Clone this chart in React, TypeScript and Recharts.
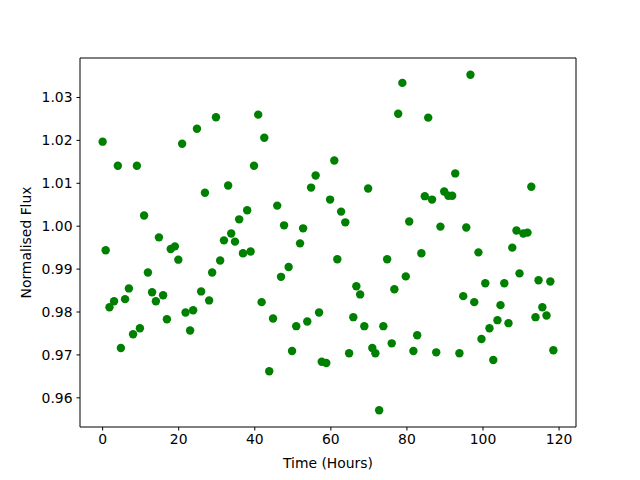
import { ScatterChart, Scatter, XAxis, YAxis, ReferenceLine } from 'recharts';

const hours = [
  0.0, 0.8, 1.8, 3.0, 4.0, 4.8, 5.9, 6.9, 8.0, 9.0,
  9.8, 10.9, 11.9, 13.0, 14.0, 14.8, 15.9, 16.9, 17.9, 19.0,
  19.9, 20.9, 21.8, 23.0, 23.8, 24.8, 25.9, 26.9, 28.0, 28.8,
  29.8, 30.9, 31.9, 33.0, 33.8, 34.8, 35.9, 36.9, 38.0, 38.9,
  39.8, 40.9, 41.8, 42.5, 43.8, 44.8, 45.9, 46.9, 47.7, 48.9,
  49.8, 50.9, 51.9, 52.7, 53.8, 54.8, 56.0, 56.9, 57.6, 58.8,
  59.8, 60.9, 61.7, 62.7, 63.8, 64.8, 65.9, 66.7, 67.7, 68.8,
  69.8, 70.9, 71.7, 72.7, 73.8, 74.8, 76.0, 76.7, 77.7, 78.8,
  79.7, 80.6, 81.7, 82.7, 83.8, 84.7, 85.6, 86.6, 87.7, 88.8,
  89.8, 90.9, 91.9, 92.7, 93.8, 94.8, 95.6, 96.7, 97.7, 98.8,
  99.6, 100.6, 101.7, 102.7, 103.8, 104.6, 105.6, 106.7, 107.7, 108.8,
  109.6, 110.6, 111.7, 112.7, 113.8, 114.6, 115.6, 116.7, 117.7, 118.5,
];

const flux = [
  1.0197, 0.9944, 0.9811, 0.9825, 1.0141, 0.9716, 0.983, 0.9855, 0.9748, 1.0141,
  0.9762, 1.0025, 0.9892, 0.9846, 0.9825, 0.9974, 0.9839, 0.9783, 0.9947, 0.9953,
  0.9922, 1.0192, 0.9799, 0.9757, 0.9804, 1.0227, 0.9848, 1.0078, 0.9827, 0.9892,
  1.0254, 0.992, 0.9967, 1.0095, 0.9983, 0.9964, 1.0016, 0.9937, 1.0037, 0.9941,
  1.0141, 1.026, 0.9823, 1.0206, 0.9662, 0.9785, 1.0048, 0.9882, 1.0002, 0.9905,
  0.9709, 0.9767, 0.996, 0.9995, 0.9778, 1.009, 1.0118, 0.9799, 0.9684, 0.9681,
  1.0062, 1.0153, 0.9923, 1.0034, 1.0009, 0.9704, 0.9788, 0.986, 0.9841, 0.9767,
  1.0088, 0.9716, 0.9704, 0.9571, 0.9767, 0.9923, 0.9727, 0.9853, 1.0262, 1.0334,
  0.9883, 1.0011, 0.9709, 0.9746, 0.9937, 1.007, 1.0253, 1.0062, 0.9706, 0.9999,
  1.0081, 1.0071, 1.0071, 1.0123, 0.9704, 0.9837, 0.9997, 1.0353, 0.9823, 0.9939,
  0.9737, 0.9867, 0.9762, 0.9688, 0.9781, 0.9816, 0.9867, 0.9774, 0.995, 0.999,
  0.989, 0.9983, 0.9985, 1.0092, 0.9788, 0.9874, 0.9811, 0.9792, 0.9871, 0.9711,
];

const xTicks = [0, 20, 40, 60, 80, 100, 120];
const yTicks = [0.96, 0.97, 0.98, 0.99, 1.0, 1.01, 1.02, 1.03];

const xDomain = [-5.95, 124.45];
const yDomain = [0.9532, 1.0392];

const points = hours.map((t, i) => ({ t, f: flux[i] }));

const font = 'DejaVu Sans, sans-serif';
const tickStyle = { fill: '#000', fontSize: 13.9, fontFamily: font };

const Dot = (props: any) => (
  <circle cx={props.cx} cy={props.cy} r={4.2} fill="#008000" />
);

export default function App() {
  return (
    <div style={{ position: 'absolute', left: 0, top: 0, width: 640, height: 480, background: '#fff' }}>
      <ScatterChart
        width={640}
        height={480}
        margin={{ top: 58, right: 64, bottom: 0, left: 0 }}
        style={{ fontFamily: font }}
      >
        <XAxis
          type="number"
          dataKey="t"
          domain={xDomain}
          allowDataOverflow
          ticks={xTicks}
          height={53}
          tickSize={3.5}
          tickMargin={4}
          stroke="#000"
          tick={tickStyle}
          label={{ value: 'Time (Hours)', position: 'insideBottom', offset: 12, fill: '#000', fontSize: 13.9 }}
        />
        <YAxis
          type="number"
          dataKey="f"
          domain={yDomain}
          allowDataOverflow
          ticks={yTicks}
          width={80}
          tickSize={3.5}
          tickMargin={4}
          stroke="#000"
          tick={tickStyle}
          tickFormatter={(v: number) => v.toFixed(2)}
          label={{
            value: 'Normalised Flux',
            angle: -90,
            position: 'insideLeft',
            offset: 26,
            fill: '#000',
            fontSize: 13.9,
            style: { textAnchor: 'middle' },
          }}
        />
        <ReferenceLine x={xDomain[1]} stroke="#000" ifOverflow="visible" />
        <ReferenceLine y={yDomain[1]} stroke="#000" ifOverflow="visible" />
        <Scatter data={points} shape={Dot} isAnimationActive={false} />
      </ScatterChart>
    </div>
  );
}
